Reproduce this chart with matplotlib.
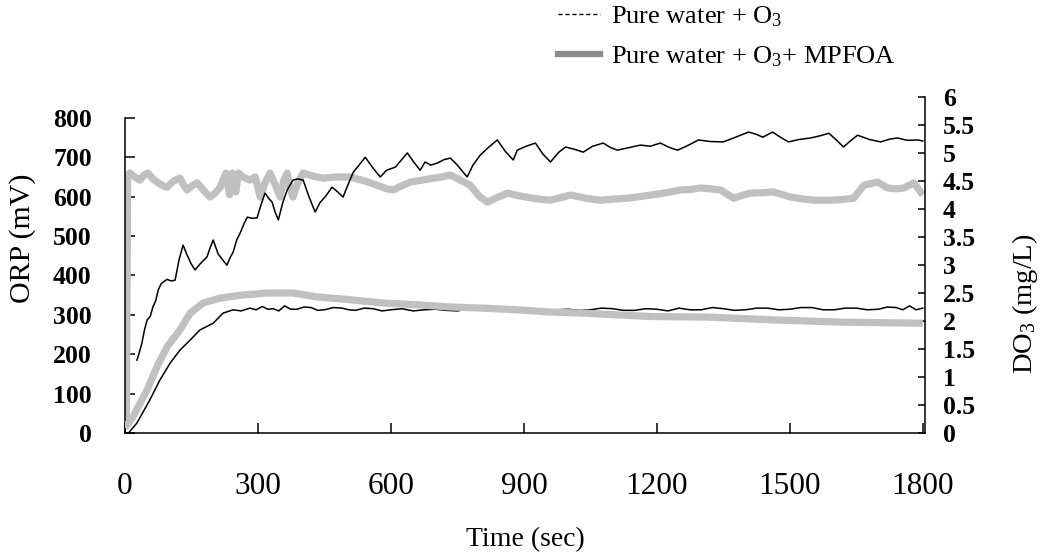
import matplotlib
matplotlib.use("Agg")
import matplotlib.pyplot as plt
from matplotlib.lines import Line2D
from matplotlib.ticker import MultipleLocator, FuncFormatter

plt.rcParams['font.family'] = ['Liberation Serif', 'DejaVu Serif']
plt.rcParams['mathtext.fontset'] = 'custom'
plt.rcParams['mathtext.rm'] = 'Liberation Serif'
plt.rcParams['mathtext.it'] = 'Liberation Serif:italic'

# ORP (mV), pure water + O3  (thin black, left axis)
t_orp_w = [27, 32, 38, 44, 50, 57, 63, 69, 75, 81, 86, 95, 104, 113, 122, 131, 140,
           149, 158, 170, 185, 192, 199, 210, 220, 230, 237, 244, 252, 260, 268, 276,
           287, 298, 307, 316, 324, 332, 339, 346, 356, 366, 379, 390, 402, 415, 429,
           440, 452, 467, 480, 492, 503, 515, 528, 542, 560, 576, 590, 610, 625, 637,
           650, 666, 677, 690, 704, 720, 734, 750, 763, 772, 785, 802, 820, 840, 858,
           876, 885, 905, 926, 943, 960, 978, 994, 1015, 1034, 1055, 1079, 1095, 1111,
           1135, 1163, 1185, 1208, 1228, 1247, 1270, 1294, 1320, 1350, 1380, 1407,
           1425, 1439, 1461, 1480, 1497, 1520, 1547, 1570, 1588, 1605, 1621, 1637,
           1653, 1680, 1705, 1725, 1743, 1765, 1789, 1800]
orp_w = [185, 203, 228, 262, 287, 296, 320, 335, 363, 378, 383, 390, 386, 388, 440, 477,
         452, 430, 414, 430, 447, 470, 490, 455, 440, 426, 445, 459, 490, 508, 530, 548,
         545, 546, 580, 609, 596, 586, 560, 541, 585, 617, 642, 645, 642, 600, 561,
         585, 600, 624, 612, 599, 630, 662, 680, 700, 672, 650, 667, 675, 695, 711,
         690, 667, 688, 680, 685, 694, 698, 680, 662, 650, 680, 706, 725, 744, 715,
         693, 718, 728, 736, 708, 688, 712, 726, 720, 713, 728, 736, 725, 718,
         724, 731, 728, 736, 725, 718, 730, 744, 740, 739, 752, 764, 758, 751, 764,
         750, 739, 745, 749, 755, 761, 744, 726, 742, 756, 745, 739, 746, 749, 743,
         744, 741]

# ORP (mV), pure water + O3 + MPFOA  (thick grey, left axis)
t_orp_m = [3, 6, 11, 22, 34, 43, 52, 63, 75, 85, 95, 110, 124, 132, 140, 152, 163, 178,
           192, 204, 215, 222, 228, 236, 242, 250, 256, 266, 282, 294, 305, 316, 327,
           339, 350, 358, 366, 372, 379, 390, 402, 425, 447, 478, 508, 540, 569, 590,
           605, 625, 644, 670, 696, 715, 734, 757, 779, 800, 818, 840, 863, 890, 921,
           940, 960, 985, 1005, 1040, 1073, 1105, 1134, 1160, 1186, 1210, 1231, 1253,
           1275, 1299, 1320, 1344, 1373, 1392, 1411, 1440, 1463, 1502, 1530, 1554, 1592,
           1620, 1644, 1655, 1667, 1698, 1721, 1740, 1757, 1780, 1800]
orp_m = [15, 655, 660, 650, 642, 655, 660, 645, 635, 628, 624, 640, 647, 630, 617, 628,
         635, 615, 599, 610, 624, 645, 660, 605, 660, 612, 660, 650, 642, 650, 599, 635,
         660, 630, 599, 640, 660, 625, 599, 635, 660, 652, 647, 650, 650, 640, 629, 620,
         617, 628, 637, 642, 647, 650, 655, 642, 629, 600, 586, 598, 609, 602, 596,
         593, 591, 598, 604, 596, 591, 594, 596, 600, 604, 608, 612, 617,
         618, 622, 620, 617, 596, 603, 609, 610, 612, 599, 594, 591, 591,
         593, 596, 612, 629, 637, 622, 620, 622, 635, 604]

# DO3 (mg/L), pure water + O3  (thin black, right axis)
t_do_w = [8, 27, 56, 79, 102, 124, 147, 169, 199, 221, 244, 262, 282, 296, 310, 322, 334,
          347, 360, 374, 388, 404, 420, 435, 450, 470, 490, 505, 520, 540, 560, 580, 600,
          625, 650, 675, 700, 725, 750, 775, 800, 825, 850, 875, 900, 925, 950, 975,
          1000, 1025, 1050, 1075, 1100, 1125, 1150, 1175, 1200, 1225, 1250, 1275, 1300,
          1325, 1350, 1375, 1400, 1425, 1450, 1475, 1500, 1525, 1550, 1575, 1600,
          1625, 1650, 1675, 1700, 1720, 1740, 1755, 1770, 1785, 1800]
do_w = [0.0, 0.18, 0.59, 0.95, 1.25, 1.48, 1.66, 1.84, 1.96, 2.14, 2.2, 2.18, 2.23, 2.2,
        2.26, 2.21, 2.22, 2.18, 2.27, 2.21, 2.21, 2.25, 2.24, 2.19, 2.2, 2.24, 2.23, 2.2,
        2.19, 2.23, 2.22, 2.18, 2.2, 2.22, 2.18, 2.2, 2.21, 2.19, 2.18, 2.22, 2.2, 2.18,
        2.19, 2.21, 2.2, 2.17, 2.18, 2.2, 2.21, 2.19, 2.2, 2.23, 2.22, 2.19, 2.19, 2.22,
        2.21, 2.18, 2.23, 2.2, 2.2, 2.24, 2.22, 2.19, 2.2, 2.23, 2.23, 2.2, 2.21, 2.24,
        2.24, 2.2, 2.2, 2.23, 2.23, 2.2, 2.21, 2.25, 2.24, 2.2, 2.27, 2.2, 2.23]

# DO3 (mg/L), pure water + O3 + MPFOA  (thick grey, right axis)
t_do_m = [0, 18, 50, 72, 95, 124, 147, 176, 215, 260, 321, 379, 434, 508, 583, 659,
          734, 808, 885, 960, 1034, 1111, 1186, 1314, 1463, 1615, 1800]
do_m = [0.09, 0.29, 0.77, 1.18, 1.54, 1.84, 2.14, 2.32, 2.41, 2.46, 2.5, 2.5, 2.43,
        2.38, 2.32, 2.29, 2.25, 2.23, 2.2, 2.16, 2.14, 2.11, 2.08, 2.07, 2.02, 1.98, 1.96]

x_ticks = [0, 300, 600, 900, 1200, 1500, 1800]
orp_ticks = [0, 100, 200, 300, 400, 500, 600, 700, 800]

grey = '#c0c0c0'
fs = 19

fig = plt.figure(figsize=(10.43, 5.58), dpi=100)
ax = fig.add_axes([125 / 1043, 1 - 433 / 558, 800 / 1043, 336 / 558])
ax2 = ax.twinx()

ax.plot(t_orp_m, orp_m, color=grey, lw=5.2, solid_capstyle='butt')
ax.plot(t_orp_w, orp_w, color='black', lw=1.1)
ax2.plot(t_do_w, do_w, color='black', lw=1.1)
ax2.plot(t_do_m, do_m, color=grey, lw=5.2, solid_capstyle='butt')

ax.set_xlim(0, 1805)
ax.set_ylim(0, 853)
ax2.set_ylim(0, 6)

ax.set_xticks(x_ticks)
ax.set_yticks(orp_ticks)
ax2.yaxis.set_major_locator(MultipleLocator(0.5))
ax2.yaxis.set_major_formatter(FuncFormatter(lambda v, p: '%g' % v))

for a in (ax, ax2):
    a.spines['top'].set_visible(False)
    for s in a.spines.values():
        s.set_linewidth(1.1)
ax.spines['right'].set_visible(False)
ax.spines['left'].set_bounds(0, 800)
ax2.spines['left'].set_visible(False)
ax2.spines['bottom'].set_visible(False)

ax.tick_params(axis='x', direction='in', length=7, width=1.1, pad=28, labelsize=22.5)
ax.tick_params(axis='y', direction='in', length=7, width=1.1, pad=24, labelsize=18.5)
ax2.tick_params(axis='y', direction='in', length=5, width=1.1, pad=13, labelsize=18.5)
for lab in ax.get_yticklabels() + ax2.get_yticklabels():
    lab.set_fontweight('bold')

ax.set_xlabel('Time (sec)', fontsize=20)
ax.xaxis.set_label_coords(0.501, -0.28)
ax.set_ylabel('ORP (mV)', fontsize=21.5)
ax.yaxis.set_label_coords(-0.111, 0.58)
ax2.set_ylabel('DO$_3$ (mg/L)', fontsize=20.5)
ax2.yaxis.set_label_coords(1.106, 0.384)

handles = [Line2D([], [], color='black', lw=1.0, ls=(0, (3, 2))),
           Line2D([], [], color='#8c8c8c', lw=4.5)]
fig.legend(handles, ['Pure water + O$_3$', 'Pure water + O$_3$+ MPFOA'],
           loc='upper left', bbox_to_anchor=(558 / 1043, 1 - 4 / 558),
           frameon=False, fontsize=fs, handlelength=1.6, handletextpad=0.4,
           labelspacing=0.6, borderpad=0, borderaxespad=0)

fig.savefig('out.png', dpi=100)
